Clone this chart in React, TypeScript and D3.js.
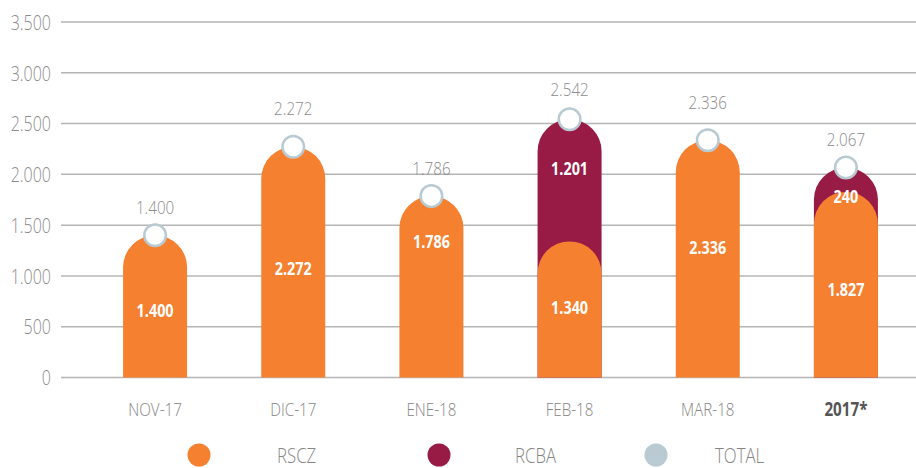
import React from 'react';
import * as d3 from 'd3';

const categories = ['NOV-17', 'DIC-17', 'ENE-18', 'FEB-18', 'MAR-18', '2017*'];
const rsczValues = [1400, 2272, 1786, 1340, 2336, 1827];
const rcbaValues = [0, 0, 0, 1201, 0, 240];
const totalValues = [1400, 2272, 1786, 2542, 2336, 2067];
const yTicks = [0, 500, 1000, 1500, 2000, 2500, 3000, 3500];
const legendItems = ['RSCZ', 'RCBA', 'TOTAL'];

// small hand tweaks so labels sit where the original put them (px)
const totalLift = [28, 39, 28, 30, 38, 29];
const rsczNudge = [4, 6, -45, -2, -11, 5];
const rcbaNudge = [0, 0, 0, -12, 0, 17];

const W = 916;
const H = 468;
const ORANGE = '#F5802F';
const MAROON = '#981B46';
const GREY = '#B9CAD3';
const FONT = '"Open Sans", sans-serif';

const fmt = d3.formatLocale({ decimal: ',', thousands: '.', grouping: [3], currency: ['', ''] }).format(',d');

const roundTop = (x0: number, w: number, top: number, bottom: number) => {
  const r = w / 2;
  return `M${x0},${bottom}V${top + r}A${r},${r} 0 0 1 ${x0 + w},${top + r}V${bottom}Z`;
};

// condensed-looking text: squeeze horizontally around the anchor
const T: React.FC<{ x: number; y: number; anchor?: string; size: number; fill: string; weight?: any; children: any }> =
  ({ x, y, anchor = 'middle', size, fill, weight = 'normal', children }) => (
    <text transform={`translate(${x},${y}) scale(0.8,1)`} textAnchor={anchor} dominantBaseline="central"
      fontSize={size} fill={fill} fontWeight={weight}>
      {children}
    </text>
  );

export default function App() {
  const x = d3.scalePoint<string>().domain(categories).range([86, 915]).padding(0.5);
  const y = d3.scaleLinear().domain([0, 3500]).range([377.5, 22]);
  const barW = 64;
  const legendX = d3.scaleOrdinal<string, number>().domain(legendItems).range([199, 439, 656]);
  const legendTextX = d3.scaleOrdinal<string, number>().domain(legendItems).range([277, 515, 715]);
  const legendColor = d3.scaleOrdinal<string, string>().domain(legendItems).range([ORANGE, MAROON, GREY]);

  return (
    <svg width={W} height={H} style={{ position: 'absolute', left: 0, top: 0, background: '#fff' }} fontFamily={FONT}>
      {/* grid + y axis */}
      {yTicks.map(t => (
        <g key={t}>
          <line x1={61} x2={W} y1={y(t)} y2={y(t)} stroke="#b5b5b5" strokeWidth={1.5} />
          <T x={51} y={y(t)} anchor="end" size={20} fill="#8c8c8c" weight={300}>{fmt(t)}</T>
        </g>
      ))}

      {/* bars */}
      {categories.map((c, i) => {
        const cx = x(c) as number;
        const x0 = cx - barW / 2;
        const last = i === categories.length - 1;
        return (
          <g key={c}>
            {rcbaValues[i] > 0 && (
              <path d={roundTop(x0, barW, y(totalValues[i]), y(0))} fill={MAROON} />
            )}
            <path d={roundTop(x0, barW, y(rsczValues[i]), y(0))} fill={ORANGE} />
            <T x={cx} y={y(rsczValues[i] / 2) + rsczNudge[i]} size={18} fill="#fff" weight="bold">
              {fmt(rsczValues[i])}
            </T>
            {rcbaValues[i] > 0 && (
              <T x={cx} y={y(rsczValues[i] + rcbaValues[i] / 2) + rcbaNudge[i]} size={18} fill="#fff" weight="bold">
                {fmt(rcbaValues[i])}
              </T>
            )}
            <circle cx={cx} cy={y(totalValues[i])} r={10.8} fill="#fff" stroke={GREY} strokeWidth={2.5} />
            <T x={cx} y={y(totalValues[i]) - totalLift[i]} size={19} fill="#8c8c8c" weight={300}>
              {fmt(totalValues[i])}
            </T>
            <T x={cx} y={409} size={19} fill={last ? '#555' : '#858585'} weight={last ? 'bold' : 300}>
              {c}
            </T>
          </g>
        );
      })}

      {/* legend */}
      {legendItems.map(k => (
        <g key={k}>
          <circle cx={legendX(k)} cy={455} r={11.5} fill={legendColor(k)} />
          <T x={legendTextX(k)} y={455} anchor="start" size={21} fill="#858585" weight={300}>{k}</T>
        </g>
      ))}
    </svg>
  );
}
